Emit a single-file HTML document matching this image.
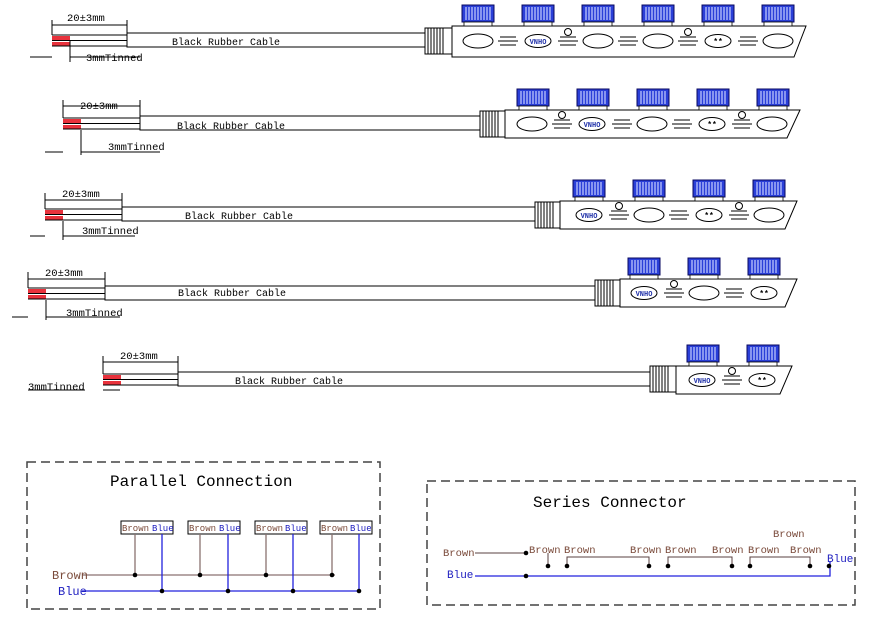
<!DOCTYPE html>
<html><head><meta charset="utf-8"><style>
html,body{margin:0;padding:0;background:#fff}
svg{display:block}
text{font-family:"Liberation Mono","Liberation Serif",monospace}
</style></head><body>
<svg width="873" height="628" viewBox="0 0 873 628" xmlns="http://www.w3.org/2000/svg">
<defs>
<g id="cap">
<rect x="0" y="0" width="32" height="17" fill="#2a3fd8" stroke="#0a0a60" stroke-width="1"/>
<path d="M4 2V15M7 2V15M10 2V15M13 2V15M16 2V15M19 2V15M22 2V15M25 2V15M28 2V15" stroke="#c8d0ff" stroke-width="1.2"/>
<rect x="2" y="17" width="28" height="4" fill="#fff" stroke="#000" stroke-width="0.8"/>
</g>
<g id="ov"><ellipse cx="0" cy="0" rx="15" ry="7" fill="#fff" stroke="#000" stroke-width="1"/></g>
<g id="lg"><ellipse cx="0" cy="0" rx="13" ry="6.5" fill="#fff" stroke="#000" stroke-width="1"/><text x="0" y="3" font-size="7" text-anchor="middle" fill="#2233aa" font-weight="bold" font-family="Liberation Sans,sans-serif">VNHO</text></g>
<g id="cn"><ellipse cx="0" cy="0" rx="13" ry="6.5" fill="#fff" stroke="#000" stroke-width="1"/><text x="0" y="3" font-size="8" text-anchor="middle" fill="#000" font-weight="bold">** </text></g>
<g id="gr"><path d="M-8 -4H8M-10 0H10M-8 4H8" stroke="#000" stroke-width="1"/></g>
<g id="boot"><rect x="0" y="0" width="27" height="26" fill="#fff" stroke="#000"/><path d="M3 0V26M6 0V26M9 0V26M12 0V26M15 0V26M18 0V26" stroke="#000" stroke-width="1"/></g>
</defs>

<g stroke="#000" stroke-width="1" fill="none">
<rect x="52" y="36" width="18" height="4" fill="#e8323c" stroke="none"/><rect x="52" y="42" width="18" height="4" fill="#e8323c" stroke="none"/>
<path d="M52 35H127M52 40.5H127M52 46H127"/>
<rect x="127" y="33" width="298" height="14" fill="#fff"/>
<path d="M52 20V35M127 20V33M52 25H127M30 57H52M70 40V62M70 57H140"/>
<rect x="63" y="119" width="18" height="4" fill="#e8323c" stroke="none"/><rect x="63" y="125" width="18" height="4" fill="#e8323c" stroke="none"/>
<path d="M63 118H140M63 123.5H140M63 129H140"/>
<rect x="140" y="116" width="340" height="14" fill="#fff"/>
<path d="M63 100V118M140 100V116M63 106H140M45 152H63M81 130V155M81 152H160"/>
<rect x="45" y="210" width="18" height="4" fill="#e8323c" stroke="none"/><rect x="45" y="216" width="18" height="4" fill="#e8323c" stroke="none"/>
<path d="M45 209H122M45 214.5H122M45 220H122"/>
<rect x="122" y="207" width="413" height="14" fill="#fff"/>
<path d="M45 193V209M122 193V207M45 200H122M30 236H45M63 221V240M63 236H135"/>
<rect x="28" y="289" width="18" height="4" fill="#e8323c" stroke="none"/><rect x="28" y="295" width="18" height="4" fill="#e8323c" stroke="none"/>
<path d="M28 288H105M28 293.5H105M28 299H105"/>
<rect x="105" y="286" width="490" height="14" fill="#fff"/>
<path d="M28 272V288M105 272V286M28 279H105M12 317H28M46 300V320M46 317H120"/>
<rect x="103" y="375" width="18" height="4" fill="#e8323c" stroke="none"/><rect x="103" y="381" width="18" height="4" fill="#e8323c" stroke="none"/>
<path d="M103 374H178M103 379.5H178M103 385H178"/>
<rect x="178" y="372" width="472" height="14" fill="#fff"/>
<path d="M103 356V374M178 356V372M103 362H178M28 390H85M103 390H120"/>
</g>

<g font-size="10.5" fill="#000">
<text x="67" y="21">20±3mm</text><text x="172" y="45" font-size="10">Black Rubber Cable</text><text x="86" y="61">3mmTinned</text>
<text x="80" y="109">20±3mm</text><text x="177" y="129" font-size="10">Black Rubber Cable</text><text x="108" y="150">3mmTinned</text>
<text x="62" y="197">20±3mm</text><text x="185" y="219" font-size="10">Black Rubber Cable</text><text x="82" y="234">3mmTinned</text>
<text x="45" y="276">20±3mm</text><text x="178" y="296" font-size="10">Black Rubber Cable</text><text x="66" y="316">3mmTinned</text>
<text x="120" y="359">20±3mm</text><text x="235" y="384" font-size="10">Black Rubber Cable</text><text x="28" y="390">3mmTinned</text>
</g>

<use href="#boot" x="425" y="28"/>
<polygon points="452,26 806,26 794,57 452,57" fill="#fff" stroke="#000"/>
<use href="#cap" x="462" y="5"/><use href="#cap" x="522" y="5"/><use href="#cap" x="582" y="5"/><use href="#cap" x="642" y="5"/><use href="#cap" x="702" y="5"/><use href="#cap" x="762" y="5"/>
<use href="#ov" x="478" y="41"/><use href="#gr" x="508" y="41"/><use href="#lg" x="538" y="41"/><use href="#gr" x="568" y="41"/><use href="#ov" x="598" y="41"/><use href="#gr" x="628" y="41"/><use href="#ov" x="658" y="41"/><use href="#gr" x="688" y="41"/><use href="#cn" x="718" y="41"/><use href="#gr" x="748" y="41"/><use href="#ov" x="778" y="41"/>
<circle cx="568" cy="32" r="3.5" fill="#fff" stroke="#000"/><circle cx="688" cy="32" r="3.5" fill="#fff" stroke="#000"/>
<use href="#boot" x="480" y="111"/>
<polygon points="505,110 800,110 787,138 505,138" fill="#fff" stroke="#000"/>
<use href="#cap" x="517" y="89"/><use href="#cap" x="577" y="89"/><use href="#cap" x="637" y="89"/><use href="#cap" x="697" y="89"/><use href="#cap" x="757" y="89"/>
<use href="#ov" x="532" y="124"/><use href="#gr" x="562" y="124"/><use href="#lg" x="592" y="124"/><use href="#gr" x="622" y="124"/><use href="#ov" x="652" y="124"/><use href="#gr" x="682" y="124"/><use href="#cn" x="712" y="124"/><use href="#gr" x="742" y="124"/><use href="#ov" x="772" y="124"/>
<circle cx="562" cy="115" r="3.5" fill="#fff" stroke="#000"/><circle cx="742" cy="115" r="3.5" fill="#fff" stroke="#000"/>
<use href="#boot" x="535" y="202"/>
<polygon points="560,201 797,201 785,229 560,229" fill="#fff" stroke="#000"/>
<use href="#cap" x="573" y="180"/><use href="#cap" x="633" y="180"/><use href="#cap" x="693" y="180"/><use href="#cap" x="753" y="180"/>
<use href="#lg" x="589" y="215"/><use href="#gr" x="619" y="215"/><use href="#ov" x="649" y="215"/><use href="#gr" x="679" y="215"/><use href="#cn" x="709" y="215"/><use href="#gr" x="739" y="215"/><use href="#ov" x="769" y="215"/>
<circle cx="619" cy="206" r="3.5" fill="#fff" stroke="#000"/><circle cx="739" cy="206" r="3.5" fill="#fff" stroke="#000"/>
<use href="#boot" x="595" y="280"/>
<polygon points="620,279 797,279 785,307 620,307" fill="#fff" stroke="#000"/>
<use href="#cap" x="628" y="258"/><use href="#cap" x="688" y="258"/><use href="#cap" x="748" y="258"/>
<use href="#lg" x="644" y="293"/><use href="#gr" x="674" y="293"/><use href="#ov" x="704" y="293"/><use href="#gr" x="734" y="293"/><use href="#cn" x="764" y="293"/>
<circle cx="674" cy="284" r="3.5" fill="#fff" stroke="#000"/>
<use href="#boot" x="650" y="366"/>
<polygon points="676,366 792,366 780,394 676,394" fill="#fff" stroke="#000"/>
<use href="#cap" x="687" y="345"/><use href="#cap" x="747" y="345"/>
<use href="#lg" x="702" y="380"/><use href="#gr" x="732" y="380"/><use href="#cn" x="762" y="380"/>
<circle cx="732" cy="371" r="3.5" fill="#fff" stroke="#000"/>

<rect x="27" y="462" width="353" height="147" fill="none" stroke="#444" stroke-width="1.5" stroke-dasharray="9,5"/>
<text x="110" y="486" font-size="16">Parallel Connection</text>
<g font-size="9">
<rect x="121" y="521" width="52" height="13" fill="#fff" stroke="#000"/><text x="122" y="531" fill="#7a4a3a">Brown</text><text x="152" y="531" fill="#2020c0">Blue</text>
<rect x="188" y="521" width="52" height="13" fill="#fff" stroke="#000"/><text x="189" y="531" fill="#7a4a3a">Brown</text><text x="219" y="531" fill="#2020c0">Blue</text>
<rect x="255" y="521" width="52" height="13" fill="#fff" stroke="#000"/><text x="256" y="531" fill="#7a4a3a">Brown</text><text x="285" y="531" fill="#2020c0">Blue</text>
<rect x="320" y="521" width="52" height="13" fill="#fff" stroke="#000"/><text x="321" y="531" fill="#7a4a3a">Brown</text><text x="350" y="531" fill="#2020c0">Blue</text>
</g>
<g stroke="#8a7270" stroke-width="1.3" fill="none"><path d="M82 575H335M135 534V575M200 534V575M266 534V575M332 534V575"/></g>
<g stroke="#2222dd" stroke-width="1.3" fill="none"><path d="M82 591H360M162 534V591M228 534V591M293 534V591M359 534V591"/></g>
<g fill="#000"><circle cx="135" cy="575" r="2.3"/><circle cx="200" cy="575" r="2.3"/><circle cx="266" cy="575" r="2.3"/><circle cx="332" cy="575" r="2.3"/><circle cx="162" cy="591" r="2.3"/><circle cx="228" cy="591" r="2.3"/><circle cx="293" cy="591" r="2.3"/><circle cx="359" cy="591" r="2.3"/></g>
<text x="52" y="579" font-size="12" fill="#7a4a3a">Brown</text><text x="58" y="595" font-size="12" fill="#2020c0">Blue</text>

<rect x="427" y="481" width="428" height="124" fill="none" stroke="#444" stroke-width="1.5" stroke-dasharray="9,5"/>
<text x="533" y="507" font-size="16">Series Connector</text>
<g font-size="10.5" fill="#7a4a3a">
<text x="443" y="556">Brown</text>
<text x="529" y="553">Brown</text><text x="564" y="553">Brown</text>
<text x="630" y="553">Brown</text><text x="665" y="553">Brown</text>
<text x="712" y="553">Brown</text><text x="748" y="553">Brown</text>
<text x="790" y="553">Brown</text><text x="773" y="537">Brown</text>
</g>
<text x="447" y="578" font-size="11" fill="#2020c0">Blue</text><text x="827" y="562" font-size="11" fill="#2020c0">Blue</text>
<g stroke="#5a4040" stroke-width="1" fill="none"><path d="M475 553H526M548 553V566M567 566V557H649V566M668 566V557H732V566M750 566V557H810V566"/></g>
<path d="M475 576H830V562" stroke="#2222dd" stroke-width="1.3" fill="none"/>
<g fill="#000"><circle cx="526" cy="553" r="2.3"/><circle cx="526" cy="576" r="2.3"/><circle cx="548" cy="566" r="2.3"/><circle cx="567" cy="566" r="2.3"/><circle cx="649" cy="566" r="2.3"/><circle cx="668" cy="566" r="2.3"/><circle cx="732" cy="566" r="2.3"/><circle cx="750" cy="566" r="2.3"/><circle cx="810" cy="566" r="2.3"/><circle cx="829" cy="566" r="2.3"/></g>
</svg>
</body></html>
